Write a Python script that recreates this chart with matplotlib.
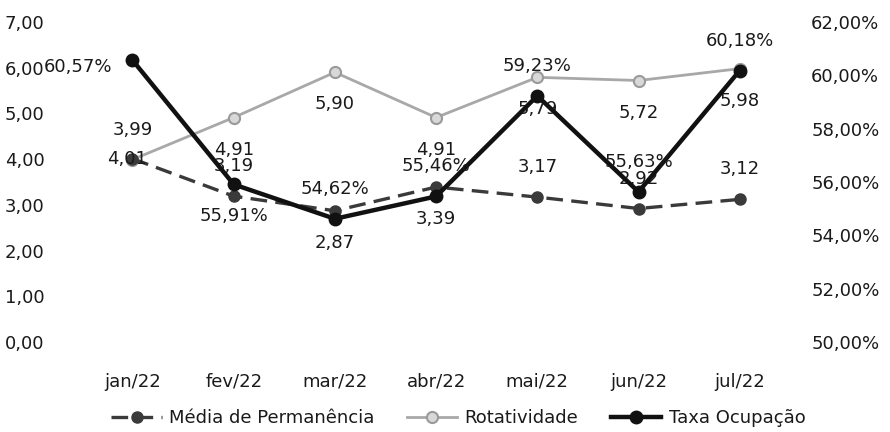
import matplotlib
matplotlib.use("Agg")
import matplotlib.pyplot as plt
from matplotlib.ticker import FuncFormatter

# Monthly indicators
months = ['jan/22', 'fev/22', 'mar/22', 'abr/22', 'mai/22', 'jun/22', 'jul/22']
media_permanencia = [4.01, 3.19, 2.87, 3.39, 3.17, 2.92, 3.12]
rotatividade = [3.99, 4.91, 5.90, 4.91, 5.79, 5.72, 5.98]
taxa_ocupacao = [60.57, 55.91, 54.62, 55.46, 59.23, 55.63, 60.18]

# where each data label sits relative to its point
pos_media = ['center', 'above', 'below', 'below', 'above', 'above', 'above']
pos_rot = ['above', 'below', 'below', 'below', 'below', 'below', 'below']
pos_taxa = ['left', 'below', 'above', 'above', 'above', 'above', 'above']

TXT = '#1a1a1a'
plt.rcParams['font.family'] = ['DejaVu Sans']
plt.rcParams['font.size'] = 13


def br(v, dec=2):
    return f'{v:.{dec}f}'.replace('.', ',')


fig = plt.figure(figsize=(8.9, 4.32), dpi=100)
ax = fig.add_axes([0.092, 1 - 342 / 432, 0.796, 320 / 432])
ax2 = ax.twinx()

x = list(range(len(months)))

ax.plot(x, media_permanencia, color='#3a3a3a', lw=2.4, ls=(0, (5, 2.5)),
        marker='o', ms=8, mfc='#3a3a3a', mec='#3a3a3a', zorder=3,
        label='Média de Permanência')
ax.plot(x, rotatividade, color='#a8a8a8', lw=2.0,
        marker='o', ms=8, mfc='#d8d8d8', mec='#9a9a9a', mew=1.5, zorder=2,
        label='Rotatividade')
ax2.plot(x, taxa_ocupacao, color='#111111', lw=3.2,
         marker='o', ms=9, mfc='#111111', mec='#111111', zorder=4,
         label='Taxa Ocupação')

ax.set_xlim(-0.5, 6.5)
ax.set_ylim(0, 7)
ax2.set_ylim(50, 62)
ax.set_yticks(range(0, 8))
ax2.set_yticks(range(50, 63, 2))
ax.yaxis.set_major_formatter(FuncFormatter(lambda v, p: br(v)))
ax2.yaxis.set_major_formatter(FuncFormatter(lambda v, p: br(v) + '%'))
ax.set_xticks(x)
ax.set_xticklabels(months)

for a in (ax, ax2):
    for s in a.spines.values():
        s.set_visible(False)
    a.tick_params(length=0, colors=TXT, labelsize=13)
ax.tick_params(axis='y', pad=27)
ax2.tick_params(axis='y', pad=15)
ax.tick_params(axis='x', pad=22)
ax2.set_zorder(ax.get_zorder() + 1)
ax2.patch.set_visible(False)

offsets = {'above': (0, 30, 'center'), 'below': (0, -32, 'center'),
           'center': (-5, 0, 'center'), 'left': (-20, -7, 'right')}


def put_labels(axis, vals, places, fmt):
    for i, (v, p) in enumerate(zip(vals, places)):
        dx, dy, ha = offsets[p]
        axis.annotate(fmt(v), (i, v), xytext=(dx, dy), textcoords='offset pixels',
                      ha=ha, va='center', fontsize=13, color=TXT, zorder=6)


put_labels(ax, media_permanencia, pos_media, br)
put_labels(ax, rotatividade, pos_rot, br)
put_labels(ax2, taxa_ocupacao, pos_taxa, lambda v: br(v) + '%')

h1, l1 = ax.get_legend_handles_labels()
h2, l2 = ax2.get_legend_handles_labels()
fig.legend(h1 + h2, l1 + l2, loc='center', bbox_to_anchor=(0.515, 1 - 418 / 432),
           ncol=3, frameon=False, fontsize=13, handlelength=2.8,
           columnspacing=1.8, handletextpad=0.4, labelcolor=TXT)

fig.savefig('out.png', dpi=100, facecolor='white')
